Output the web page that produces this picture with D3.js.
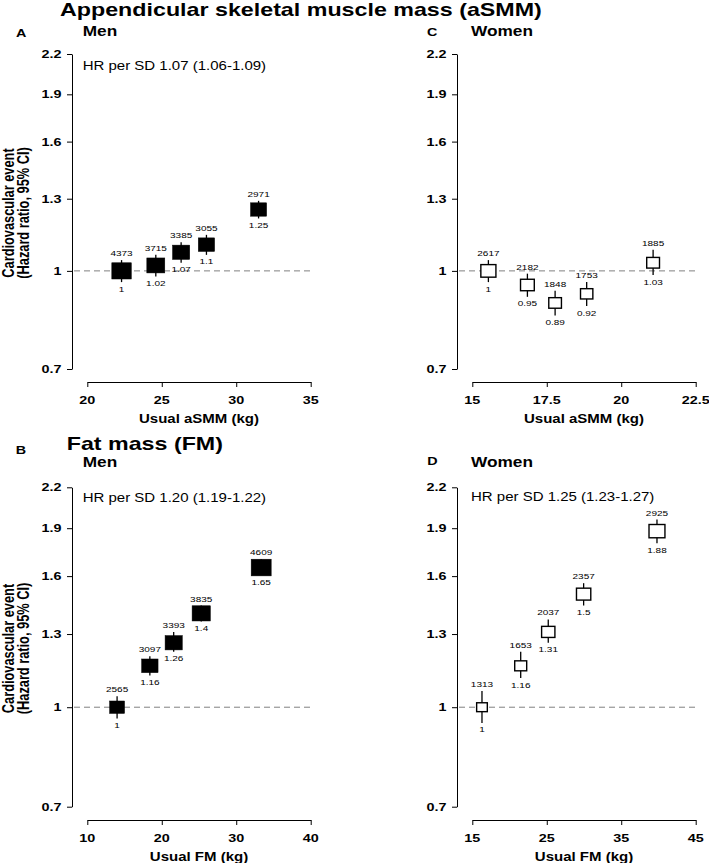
<!DOCTYPE html>
<html>
<head>
<meta charset="utf-8">
<script src="https://cdn.jsdelivr.net/npm/d3@7"></script>
<style>
  html, body { margin: 0; padding: 0; background: #fff; }
  svg { display: block; }
  text { font-family: "Liberation Sans", Arial, Helvetica, sans-serif; fill: #000; }
</style>
</head>
<body>
<svg id="chart" width="709" height="863"></svg>
<script>
// ---------------- DATA ----------------
const yTicks = [0.7, 1, 1.3, 1.6, 1.9, 2.2];

// A: aSMM, men
const asmmMenX      = [22.3, 24.6, 26.3, 28.0, 31.5];
const asmmMenHR     = [1.00, 1.02, 1.07, 1.10, 1.25];
const asmmMenLo     = [0.96, 0.98, 1.03, 1.06, 1.21];
const asmmMenHi     = [1.04, 1.06, 1.11, 1.14, 1.29];
const asmmMenEvents = [4373, 3715, 3385, 3055, 2971];
const asmmMenTicks  = [20, 25, 30, 35];

// C: aSMM, women
const asmmWomenX      = [15.54, 16.85, 17.78, 18.84, 21.07];
const asmmWomenHR     = [1.00, 0.95, 0.89, 0.92, 1.03];
const asmmWomenLo     = [0.96, 0.91, 0.85, 0.88, 0.985];
const asmmWomenHi     = [1.04, 0.99, 0.93, 0.96, 1.08];
const asmmWomenEvents = [2617, 2182, 1848, 1753, 1885];
const asmmWomenTicks  = [15, 17.5, 20, 22.5];

// B: FM, men
const fmMenX      = [14.0, 18.4, 21.6, 25.3, 33.35];
const fmMenHR     = [1.00, 1.16, 1.26, 1.40, 1.65];
const fmMenLo     = [0.96, 1.12, 1.22, 1.36, 1.61];
const fmMenHi     = [1.04, 1.20, 1.31, 1.44, 1.70];
const fmMenEvents = [2565, 3097, 3393, 3835, 4609];
const fmMenTicks  = [10, 20, 30, 40];

// D: FM, women
const fmWomenX      = [16.3, 21.5, 25.2, 29.95, 39.8];
const fmWomenHR     = [1.00, 1.16, 1.31, 1.50, 1.88];
const fmWomenLo     = [0.945, 1.11, 1.26, 1.44, 1.80];
const fmWomenHi     = [1.06, 1.22, 1.37, 1.56, 1.96];
const fmWomenEvents = [1313, 1653, 2037, 2357, 2925];
const fmWomenTicks  = [15, 25, 35, 45];

// ---------------- DRAW ----------------
const SX = 1.25;   // horizontal stretch of the original rendering
const FONT = '"Liberation Sans", Arial, Helvetica, sans-serif';
const svg = d3.select('#chart');

function txt(x, y, s, o = {}) {
  const t = svg.append('text')
    .attr('transform', `translate(${x},${y}) scale(${SX},1)` + (o.rotate ? ` rotate(${o.rotate})` : ''))
    .attr('text-anchor', o.anchor || 'start')
    .style('font-size', (o.size || 12) + 'px')
    .style('font-weight', o.bold ? 'bold' : 'normal')
    .text(s);
  if (o.dy) t.attr('dy', o.dy);
  return t;
}

const boxW = d3.scaleSqrt().domain([0, 4609]).range([0, 20]);

function panel(cfg) {
  const y = d3.scaleLog().domain([0.7, 2.2]).range([cfg.yBottom, cfg.yTop]);
  const x = d3.scaleLinear().domain([cfg.xTicks[0], cfg.xTicks[cfg.xTicks.length - 1]])
    .range([cfg.xLeft, cfg.xLeft + 223.4]);
  const axisX = cfg.xLeft - 15.3;

  // y axis
  const yAxis = d3.axisLeft(y).tickValues(yTicks).tickSize(5).tickSizeOuter(0).tickFormat(() => '');
  const gy = svg.append('g').attr('transform', `translate(${axisX},0)`).call(yAxis);
  gy.select('.domain').attr('stroke', '#000').attr('stroke-width', 1);
  gy.selectAll('.tick line').attr('stroke', '#000');
  yTicks.forEach(v => txt(axisX - 10.5, y(v), d3.format('')(v), { anchor: 'end', size: 11.5, bold: true, dy: '0.36em' }));

  // x axis
  const xAxis = d3.axisBottom(x).tickValues(cfg.xTicks).tickSize(5).tickSizeOuter(0).tickFormat(() => '');
  const gx = svg.append('g').attr('transform', `translate(0,${cfg.xAxisY})`).call(xAxis);
  gx.select('.domain').attr('stroke', '#000').attr('stroke-width', 1);
  gx.selectAll('.tick line').attr('stroke', '#000');
  cfg.xTicks.forEach(v => txt(x(v), cfg.xAxisY + 22, String(v), { anchor: 'middle', size: 11.5, bold: true }));
  txt(x((cfg.xTicks[0] + cfg.xTicks[cfg.xTicks.length - 1]) / 2), cfg.xAxisY + 40.5, cfg.xTitle,
      { anchor: 'middle', size: 12, bold: true });

  // reference line
  svg.append('line')
    .attr('x1', axisX + 2).attr('x2', x(cfg.xTicks[cfg.xTicks.length - 1]) + 2)
    .attr('y1', y(1)).attr('y2', y(1))
    .attr('stroke', '#808080').attr('stroke-width', 1).attr('stroke-dasharray', '6,4');

  const data = cfg.xs.map((v, i) => ({ x: v, hr: cfg.hr[i], lo: cfg.lo[i], hi: cfg.hi[i], ev: cfg.ev[i] }));

  // CIs
  svg.append('g').selectAll('line').data(data).join('line')
    .attr('x1', d => x(d.x)).attr('x2', d => x(d.x))
    .attr('y1', d => y(d.lo)).attr('y2', d => y(d.hi))
    .attr('stroke', '#000').attr('stroke-width', 1.3);

  // boxes
  svg.append('g').selectAll('rect').data(data).join('rect')
    .attr('x', d => x(d.x) - boxW(d.ev) / 2)
    .attr('y', d => y(d.hr) - boxW(d.ev) / 2.4)
    .attr('width', d => boxW(d.ev))
    .attr('height', d => boxW(d.ev) / 1.2)
    .attr('fill', cfg.filled ? '#000' : '#fff')
    .attr('stroke', '#000').attr('stroke-width', cfg.filled ? 0.5 : 1.4);

  // labels
  data.forEach(d => {
    const h = boxW(d.ev) / 1.2;
    const top = Math.min(y(d.hi), y(d.hr) - h / 2);
    const bot = Math.max(y(d.lo), y(d.hr) + h / 2);
    txt(x(d.x), top - 4, String(d.ev), { anchor: 'middle', size: 8 });
    txt(x(d.x), bot + 9.5, d3.format('')(d.hr), { anchor: 'middle', size: 8 });
  });

  // panel letter, sex
  txt(cfg.letterX, cfg.letterY, cfg.letter, { anchor: 'middle', size: 11.5, bold: true });
  txt(cfg.sexX, cfg.sexY, cfg.sex, { size: 13.8, bold: true });
  if (cfg.hrText) txt(cfg.sexX, cfg.hrY, cfg.hrText, { size: 12 });

  // y title
  if (cfg.yTitle) {
    const cy = (cfg.yTop + cfg.yBottom) / 2 + 1.5;
    txt(14, cy, 'Cardiovascular event', { anchor: 'middle', size: 12.8, bold: true, rotate: -90 });
    txt(29, cy, '(Hazard ratio, 95% CI)', { anchor: 'middle', size: 12.8, bold: true, rotate: -90 });
  }
}

// Section titles
txt(60, 15.5, 'Appendicular skeletal muscle mass (aSMM)', { size: 18.6, bold: true });
txt(66.7, 450, 'Fat mass (FM)', { size: 18.6, bold: true });

panel({ xs: asmmMenX, hr: asmmMenHR, lo: asmmMenLo, hi: asmmMenHi, ev: asmmMenEvents, xTicks: asmmMenTicks,
  xLeft: 87.3, yTop: 54, yBottom: 369, xAxisY: 382, filled: true, xTitle: 'Usual aSMM (kg)',
  letter: 'A', letterX: 21.3, letterY: 36.5, sex: 'Men', sexX: 82.7, sexY: 36,
  hrText: 'HR per SD 1.07 (1.06-1.09)', hrY: 70, yTitle: true });

panel({ xs: asmmWomenX, hr: asmmWomenHR, lo: asmmWomenLo, hi: asmmWomenHi, ev: asmmWomenEvents, xTicks: asmmWomenTicks,
  xLeft: 472.3, yTop: 54, yBottom: 369, xAxisY: 382, filled: false, xTitle: 'Usual aSMM (kg)',
  letter: 'C', letterX: 432.3, letterY: 36, sex: 'Women', sexX: 471, sexY: 36, yTitle: false });

panel({ xs: fmMenX, hr: fmMenHR, lo: fmMenLo, hi: fmMenHi, ev: fmMenEvents, xTicks: fmMenTicks,
  xLeft: 87.3, yTop: 487.3, yBottom: 806.7, xAxisY: 820, filled: true, xTitle: 'Usual FM (kg)',
  letter: 'B', letterX: 21, letterY: 454.3, sex: 'Men', sexX: 82.7, sexY: 466.7,
  hrText: 'HR per SD 1.20 (1.19-1.22)', hrY: 501.7, yTitle: true });

panel({ xs: fmWomenX, hr: fmWomenHR, lo: fmWomenLo, hi: fmWomenHi, ev: fmWomenEvents, xTicks: fmWomenTicks,
  xLeft: 472.3, yTop: 487.3, yBottom: 806.7, xAxisY: 820, filled: false, xTitle: 'Usual FM (kg)',
  letter: 'D', letterX: 432.5, letterY: 465, sex: 'Women', sexX: 471, sexY: 466.7,
  hrText: 'HR per SD 1.25 (1.23-1.27)', hrY: 501, yTitle: false });
</script>
</body>
</html>
